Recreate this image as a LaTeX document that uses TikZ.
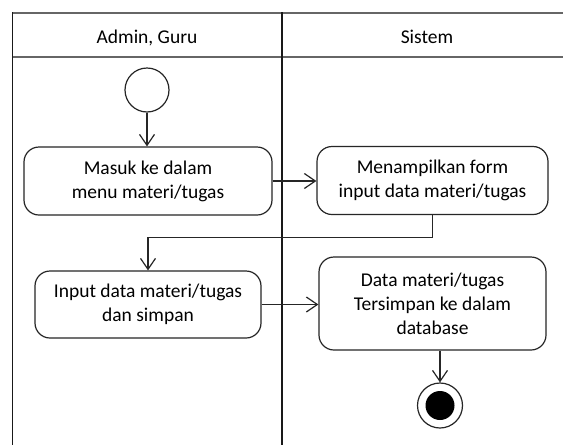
\documentclass[tikz,border=0pt]{standalone}
\usepackage{fontspec}
\setmainfont{Carlito}
\usetikzlibrary{arrows.meta}
\begin{document}
\begin{tikzpicture}[x=1pt,y=-1pt,
  lane/.style={draw=black!90, line width=1.3pt},
  headline/.style={draw=black!60, line width=2pt},
  laneTitle/.style={font=\fontsize{19.5}{23}\selectfont, anchor=base, inner sep=0pt},
  act/.style={draw=black!85, line width=1.2pt, rounded corners=15pt, fill=white,
    align=center, font=\fontsize{19.5}{24}\selectfont, inner sep=0pt},
  flow/.style={draw=black!85, line width=1.2pt,
    -{Straight Barb[length=11pt,width=15pt,line width=1.2pt]}},
  startnode/.style={circle, draw=black!85, line width=1.2pt, fill=white, minimum size=44pt, inner sep=0pt},
  endnode/.style={circle, draw=black!85, line width=1.2pt, fill=white, minimum size=45pt, inner sep=0pt}
]
\useasboundingbox[fill=white] (0,0) rectangle (563,445);

% swimlane frame
\draw[headline] (12.5,12.5) -- (563,12.5);
\draw[headline] (12.5,57) -- (563,57);
\draw[lane] (12.5,12) -- (12.5,445);
\draw[lane] (282,12) -- (282,445);
\node[laneTitle] (h1) at (147,43) {Admin, Guru};
\node[laneTitle] (h2) at (427,43) {Sistem};

% activities
\node[startnode] (start) at (147,90) {};
\node[act, minimum width=248pt, minimum height=68pt] (b1) at (148,181)
  {Masuk ke dalam\\menu materi/tugas};
\node[act, minimum width=231pt, minimum height=68pt] (b2) at (432.5,180.5)
  {Menampilkan form\\input data materi/tugas};
\node[act, minimum width=226pt, minimum height=67pt] (b3) at (148,304.5)
  {Input data materi/tugas\\dan simpan};
\node[act, minimum width=227pt, minimum height=93pt] (b4) at (432.5,303.5)
  {Data materi/tugas\\Tersimpan ke dalam\\database};
\node[endnode] (stop) at (440,405.5) {};
\fill[black] (stop.center) circle (14.5);

% control flow
\draw[flow] (start.south) -- (start.south |- b1.north);
\draw[flow] (b1.east) -- (b2.west |- b1.east);
\draw[flow] (b2.south) -- ++(0,22) -| (b3.north);
\draw[flow] (b3.east) -- (b4.west |- b3.east);
\draw[flow] (stop.north |- b4.south) -- (stop.north);
\end{tikzpicture}
\end{document}
